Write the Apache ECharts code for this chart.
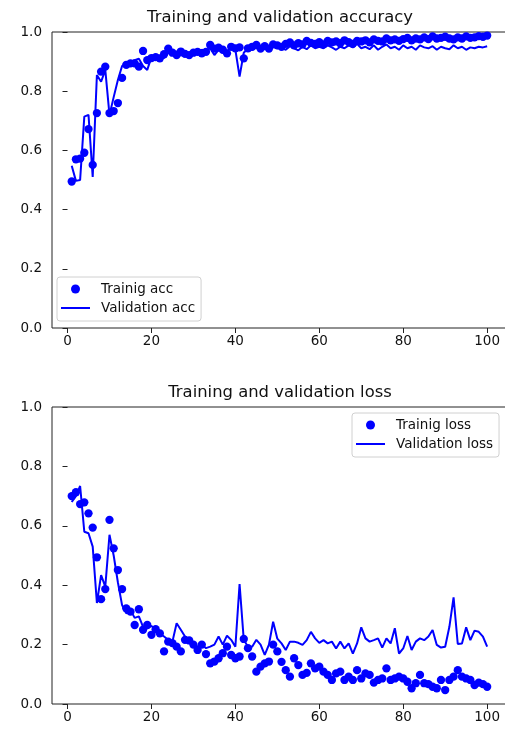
<!DOCTYPE html>
<html>
<head>
<meta charset="utf-8">
<script src="https://cdn.jsdelivr.net/npm/echarts@6/dist/echarts.min.js"></script>
<style>
html,body{margin:0;padding:0;background:#fff;}
#chart{width:505px;height:729px;}
</style>
</head>
<body>
<div id="chart"></div>
<script>
// ---- data ----
const epochs = Array.from({length: 100}, (_, i) => i + 1);
const xTickValues = [0, 20, 40, 60, 80, 100];

const trainAcc = [
  0.495,0.570,0.572,0.592,0.672,0.551,0.726,0.866,0.883,0.726,
  0.733,0.760,0.845,0.889,0.894,0.894,0.883,0.936,0.905,0.912,
  0.915,0.911,0.925,0.944,0.930,0.922,0.934,0.926,0.922,0.930,
  0.933,0.928,0.933,0.956,0.944,0.947,0.940,0.928,0.950,0.945,
  0.948,0.911,0.945,0.950,0.956,0.944,0.952,0.944,0.958,0.955,
  0.950,0.960,0.965,0.955,0.962,0.958,0.970,0.963,0.960,0.966,
  0.958,0.970,0.965,0.968,0.962,0.972,0.966,0.960,0.970,0.968,
  0.972,0.965,0.975,0.970,0.968,0.978,0.972,0.975,0.970,0.976,
  0.980,0.972,0.978,0.975,0.982,0.976,0.985,0.978,0.980,0.984,
  0.978,0.975,0.982,0.978,0.985,0.980,0.982,0.986,0.984,0.988
];
const valAcc = [
  0.548,0.497,0.500,0.714,0.720,0.510,0.855,0.832,0.872,0.720,
  0.780,0.838,0.885,0.890,0.900,0.905,0.910,0.885,0.872,0.915,
  0.905,0.918,0.912,0.930,0.925,0.935,0.920,0.930,0.925,0.935,
  0.930,0.940,0.935,0.945,0.922,0.940,0.945,0.935,0.948,0.940,
  0.849,0.930,0.945,0.940,0.950,0.942,0.948,0.940,0.952,0.945,
  0.948,0.940,0.952,0.945,0.938,0.950,0.942,0.955,0.945,0.950,
  0.945,0.955,0.948,0.940,0.950,0.945,0.955,0.948,0.960,0.945,
  0.950,0.942,0.955,0.940,0.950,0.958,0.945,0.950,0.940,0.955,
  0.945,0.950,0.940,0.955,0.948,0.945,0.952,0.940,0.950,0.945,
  0.942,0.955,0.945,0.950,0.940,0.948,0.945,0.950,0.948,0.952
];
const trainLoss = [
  0.700,0.713,0.673,0.679,0.642,0.594,0.494,0.353,0.387,0.620,
  0.524,0.451,0.387,0.322,0.311,0.266,0.319,0.250,0.266,0.233,
  0.252,0.238,0.177,0.210,0.205,0.193,0.177,0.216,0.214,0.200,
  0.182,0.200,0.168,0.137,0.143,0.154,0.171,0.193,0.165,0.154,
  0.160,0.219,0.188,0.160,0.109,0.126,0.137,0.143,0.200,0.177,
  0.142,0.114,0.092,0.154,0.131,0.098,0.105,0.137,0.120,0.126,
  0.109,0.098,0.081,0.103,0.109,0.081,0.092,0.081,0.114,0.086,
  0.103,0.098,0.072,0.081,0.086,0.120,0.081,0.086,0.092,0.086,
  0.075,0.053,0.070,0.098,0.070,0.067,0.058,0.053,0.081,0.047,
  0.081,0.092,0.114,0.092,0.086,0.081,0.064,0.072,0.067,0.058
];
const valLoss = [
  0.680,0.700,0.734,0.580,0.575,0.530,0.340,0.434,0.395,0.570,
  0.500,0.410,0.333,0.305,0.317,0.290,0.295,0.260,0.255,0.263,
  0.250,0.238,0.227,0.216,0.210,0.272,0.250,0.227,0.216,0.205,
  0.193,0.200,0.188,0.193,0.200,0.227,0.200,0.230,0.216,0.193,
  0.404,0.216,0.193,0.193,0.216,0.200,0.165,0.200,0.277,0.220,
  0.204,0.182,0.210,0.210,0.206,0.199,0.215,0.243,0.221,0.206,
  0.215,0.204,0.210,0.187,0.210,0.187,0.204,0.170,0.204,0.258,
  0.221,0.210,0.215,0.221,0.190,0.221,0.204,0.255,0.170,0.187,
  0.229,0.182,0.210,0.221,0.215,0.227,0.249,0.199,0.190,0.193,
  0.260,0.359,0.202,0.204,0.258,0.215,0.247,0.243,0.227,0.193
];

// ---- chart ----
const FONT = 'DejaVu Sans';
const BLUE = '#0000ff';
const AXIS = '#222222';
const LINE_ICON = 'path://M0,0L29,0L29,2L0,2Z';
const pairs = (ys) => epochs.map((e, i) => [e, ys[i]]);

const gridTops = [32, 407];
const gridHeights = [296, 297];

function xAxisFor(i) {
  return {
    type: 'value', gridIndex: i, min: -3.7, max: 106.4,
    splitLine: {show: false},
    axisLine: {show: false},
    axisTick: {show: true, length: 5, customValues: xTickValues, lineStyle: {color: AXIS, width: 1}},
    axisLabel: {customValues: xTickValues, margin: 6, fontSize: 13.5, fontFamily: FONT, color: '#111'}
  };
}
function yAxisFor(i) {
  return {
    type: 'value', gridIndex: i, min: 0, max: 1, interval: 0.2,
    splitLine: {show: false},
    axisLine: {show: false},
    axisTick: {show: true, length: 5, lineStyle: {color: AXIS, width: 1}},
    axisLabel: {margin: 10, fontSize: 13.5, fontFamily: FONT, color: '#111',
      formatter: (v) => v.toFixed(1)}
  };
}
function legendFor(names, left, top) {
  return {
    data: [
      {name: names[0], icon: 'circle'},
      {name: names[1], icon: LINE_ICON}
    ],
    orient: 'vertical', align: 'left', left: left, top: top,
    itemWidth: 29, itemHeight: 9, itemGap: 3, symbolKeepAspect: true,
    padding: [4, 6, 5, 4],
    borderColor: '#d0d0d0', borderWidth: 1, borderRadius: 3,
    backgroundColor: '#ffffff', selectedMode: false,
    textStyle: {fontSize: 13.5, fontFamily: FONT, color: '#111', lineHeight: 16, padding: [0, 0, 0, 6]}
  };
}
function titleFor(text, top) {
  return {
    text: text, left: 280, top: top, textAlign: 'center', padding: 0,
    textStyle: {fontSize: 16.4, fontWeight: 'normal', fontFamily: FONT, color: '#111'}
  };
}

const option = {
  animation: false,
  backgroundColor: '#ffffff',
  title: [
    titleFor('Training and validation accuracy', 10),
    titleFor('Training and validation loss', 385)
  ],
  grid: [0, 1].map(i => ({
    left: 52, top: gridTops[i], width: 462, height: gridHeights[i],
    containLabel: false, outerBoundsMode: 'none',
    show: true, borderColor: AXIS, borderWidth: 1, backgroundColor: 'transparent'
  })),
  xAxis: [xAxisFor(0), xAxisFor(1)],
  yAxis: [yAxisFor(0), yAxisFor(1)],
  legend: [
    legendFor(['Trainig acc', 'Validation acc'], 57, 277),
    legendFor(['Trainig loss', 'Validation loss'], 352, 413)
  ],
  series: [
    {name: 'Trainig acc', type: 'scatter', xAxisIndex: 0, yAxisIndex: 0,
     symbol: 'circle', symbolSize: 8.3, itemStyle: {color: BLUE, opacity: 1},
     data: pairs(trainAcc)},
    {name: 'Validation acc', type: 'line', xAxisIndex: 0, yAxisIndex: 0,
     symbol: 'none', showSymbol: false, lineStyle: {color: BLUE, width: 2}, itemStyle: {color: BLUE},
     data: pairs(valAcc)},
    {name: 'Trainig loss', type: 'scatter', xAxisIndex: 1, yAxisIndex: 1,
     symbol: 'circle', symbolSize: 8.3, itemStyle: {color: BLUE, opacity: 1},
     data: pairs(trainLoss)},
    {name: 'Validation loss', type: 'line', xAxisIndex: 1, yAxisIndex: 1,
     symbol: 'none', showSymbol: false, lineStyle: {color: BLUE, width: 2}, itemStyle: {color: BLUE},
     data: pairs(valLoss)}
  ]
};

const chart = echarts.init(document.getElementById('chart'), null, {renderer: 'canvas'});
chart.setOption(option);
</script>
</body>
</html>
